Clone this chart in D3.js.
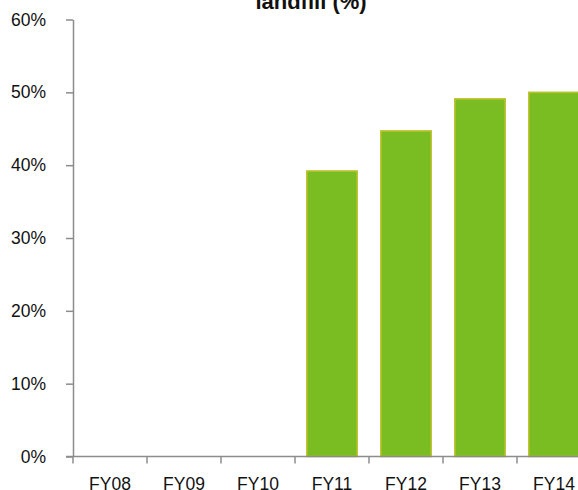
<!DOCTYPE html>
<html>
<head>
<meta charset="utf-8">
<script src="https://cdn.jsdelivr.net/npm/d3@7"></script>
<style>
  html, body { margin: 0; padding: 0; background: #fff; overflow: hidden; }
  svg { display: block; font-family: "Liberation Sans", Arial, sans-serif; }
</style>
</head>
<body>
<svg id="chart" width="578" height="490"></svg>
<script>
// Share of waste diverted from landfill, by financial year
const categories = ["FY08", "FY09", "FY10", "FY11", "FY12", "FY13", "FY14"];
const values = [null, null, null, 39.2, 44.7, 49.1, 50.0];
const yTicks = [0, 10, 20, 30, 40, 50, 60];
const titleText = "landfill (%)";

const svg = d3.select("#chart");
const plotLeft = 73, plotTop = 19.5, plotBottom = 456.5, bandStep = 74;

const x = d3.scaleBand()
  .domain(categories)
  .range([plotLeft, plotLeft + bandStep * categories.length])
  .paddingInner(0.32)
  .paddingOuter(0.16);

const y = d3.scaleLinear().domain([0, 60]).range([plotBottom, plotTop]);

// bars
svg.append("g")
  .selectAll("rect")
  .data(categories.map((c, i) => ({ c, v: values[i] })).filter(d => d.v != null))
  .join("rect")
  .attr("x", d => x(d.c))
  .attr("y", d => y(d.v))
  .attr("width", x.bandwidth())
  .attr("height", d => y(0) - y(d.v))
  .attr("fill", "#7abd22")
  .attr("stroke", "#bcc22c")
  .attr("stroke-width", 1.6);

// y axis
const yAxis = svg.append("g")
  .attr("transform", `translate(${plotLeft},0)`)
  .call(d3.axisLeft(y).tickValues(yTicks).tickFormat(d => d + "%").tickSize(7).tickPadding(20).tickSizeOuter(0));
yAxis.select(".domain").attr("stroke", "#8c8c8c").attr("stroke-width", 1.5);
yAxis.selectAll(".tick line").attr("stroke", "#8c8c8c").attr("stroke-width", 1.5);
yAxis.selectAll(".tick text").attr("font-size", 17.5).attr("fill", "#111")
  .attr("font-family", "'Liberation Sans', Arial, sans-serif");

// x axis with ticks at category boundaries
const boundaries = categories.map(c => x(c) - x.step() * x.paddingInner() / 2);
const xg = svg.append("g");
xg.append("line")
  .attr("x1", plotLeft - 7).attr("x2", plotLeft + bandStep * categories.length)
  .attr("y1", plotBottom).attr("y2", plotBottom)
  .attr("stroke", "#8c8c8c").attr("stroke-width", 1.5);
xg.selectAll("line.tk")
  .data(boundaries)
  .join("line")
  .attr("class", "tk")
  .attr("x1", d => d).attr("x2", d => d)
  .attr("y1", plotBottom).attr("y2", plotBottom + 7)
  .attr("stroke", "#8c8c8c").attr("stroke-width", 1.5);
xg.selectAll("text")
  .data(categories)
  .join("text")
  .attr("x", d => x(d) + x.bandwidth() / 2)
  .attr("y", plotBottom + 33)
  .attr("text-anchor", "middle")
  .attr("font-size", 17.5)
  .attr("fill", "#111")
  .text(d => d);

// title
svg.append("text")
  .attr("x", 311)
  .attr("y", 9)
  .attr("text-anchor", "middle")
  .attr("font-size", 22)
  .attr("font-weight", "bold")
  .attr("fill", "#111")
  .text(titleText);
</script>
</body>
</html>
